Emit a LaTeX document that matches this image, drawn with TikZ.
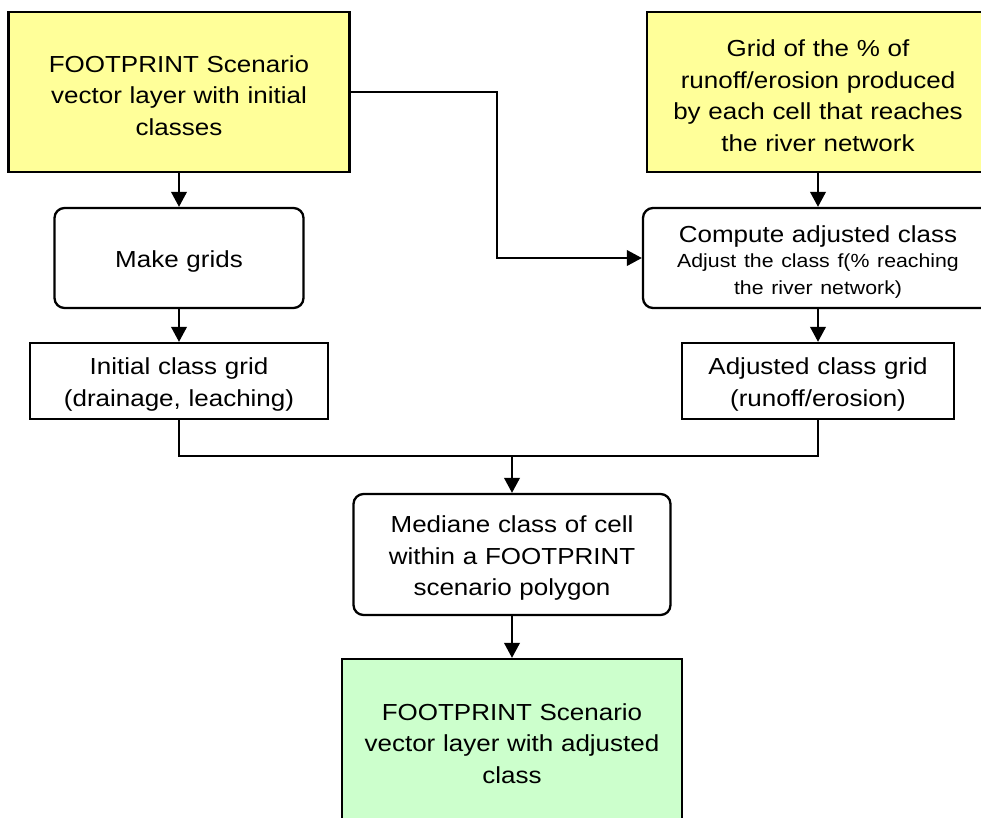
\documentclass[tikz,border=0pt]{standalone}
\usepackage{fontspec}
\setmainfont{Liberation Sans}[FakeStretch=1.12]
\usetikzlibrary{arrows.meta}
\definecolor{boxyellow}{RGB}{255,255,153}
\definecolor{boxgreen}{RGB}{204,255,204}
\begin{document}
\begin{tikzpicture}[x=1pt,y=-1pt,
  box/.style={draw=black, line width=2.3pt, inner sep=0pt, align=center,
    font=\fontsize{23.2}{31.7}\selectfont},
  rbox/.style={box, rounded corners=10pt},
  conn/.style={line width=2.3pt},
  arr/.style={conn, -{Triangle[length=15pt,width=15.5pt]}}]
\newcommand{\topstrut}{\rule{0pt}{24pt}}
\clip (0,0) rectangle (981,817);
\fill[white] (0,0) rectangle (981,817);

\node[box, fill=boxyellow, minimum width=341pt, minimum height=160pt, text width=320pt] (A) at (179,92)
  {\topstrut FOOTPRINT Scenario\\vector layer with initial\\classes};
\node[box, fill=boxyellow, minimum width=342pt, minimum height=160pt, text width=320pt] (B) at (818,92)
  {\topstrut Grid of the \% of\\runoff/erosion produced\\by each cell that reaches\\the river network};
\node[rbox, minimum width=249pt, minimum height=100pt, text width=230pt] (MG) at (179,258)
  {\topstrut Make grids};
\node[rbox, minimum width=350pt, minimum height=100pt, text width=330pt] (C) at (818,258)
  {\topstrut Compute adjusted class\par\vspace{-2pt}{\fontsize{19}{27}\selectfont Adjust the class f(\% reaching\\the river network)\par}};
\node[box, minimum width=298pt, minimum height=76pt, text width=280pt] (IG) at (179,381)
  {\topstrut Initial class grid\\(drainage, leaching)};
\node[box, minimum width=272pt, minimum height=76pt, text width=260pt] (AG) at (818,381)
  {\topstrut Adjusted class grid\\(runoff/erosion)};
\node[rbox, minimum width=317pt, minimum height=121pt, text width=300pt] (M) at (512,554.5)
  {\topstrut Mediane class of cell\\within a FOOTPRINT\\scenario polygon};
\node[box, fill=boxgreen, minimum width=340pt, minimum height=162pt, text width=320pt] (G) at (512,740)
  {\topstrut FOOTPRINT Scenario\\vector layer with adjusted\\class};

\coordinate (m) at (512,456);

\draw[arr] (A.south) -- (MG.north);
\draw[arr] (MG.south) -- (IG.north);
\draw[arr] (B.south) -- (C.north);
\draw[arr] (C.south) -- (AG.north);
\draw[arr] (A.east) -- ++(146,0) |- (C.west);
\draw[conn] (IG.south) |- (m) -| (AG.south);
\draw[arr] (m) -- (M.north);
\draw[arr] (M.south) -- (G.north);
\end{tikzpicture}
\end{document}
